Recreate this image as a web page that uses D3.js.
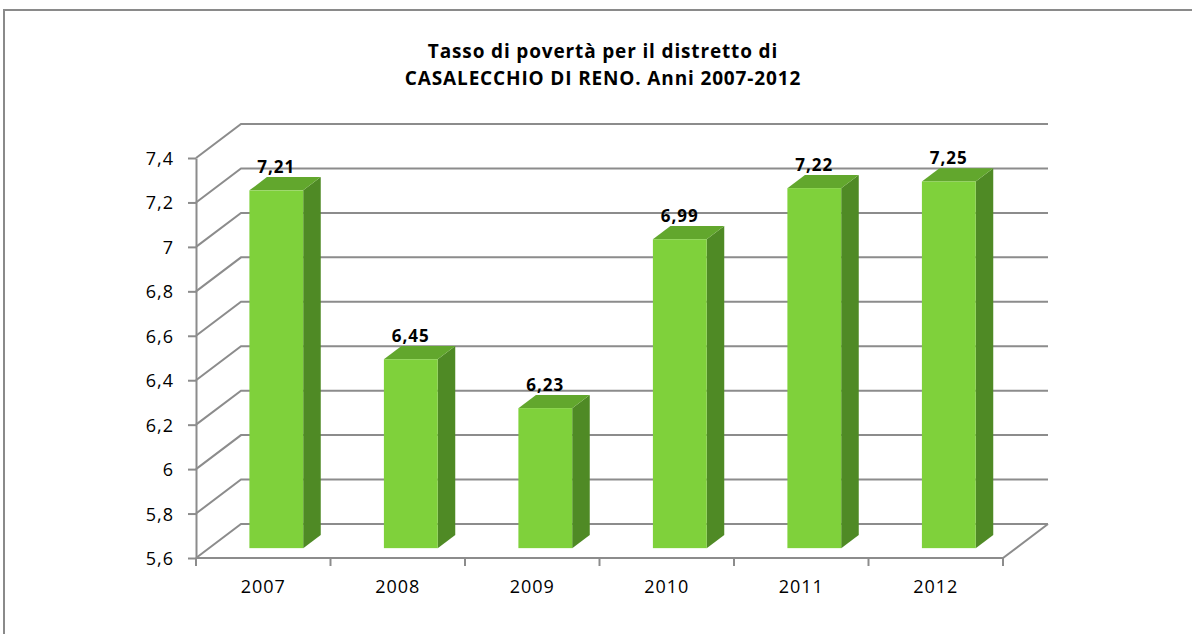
<!DOCTYPE html>
<html>
<head>
<meta charset="utf-8">
<script src="https://cdn.jsdelivr.net/npm/d3@7"></script>
<style>
  html, body { margin: 0; padding: 0; background: #fff; }
  svg { display: block; }
  text { font-family: "Open Sans", "DejaVu Sans", sans-serif; fill: #000; }
</style>
</head>
<body>
<svg id="chart" width="1192" height="634"></svg>
<script>
// Poverty rate, Casalecchio di Reno district, 2007-2012
const years = ["2007", "2008", "2009", "2010", "2011", "2012"];
const rates = [7.21, 6.45, 6.23, 6.99, 7.22, 7.25];
const yTicks = [5.6, 5.8, 6, 6.2, 6.4, 6.6, 6.8, 7, 7.2, 7.4];
const titleLines = ["Tasso di povertà per il distretto di", "CASALECCHIO DI RENO. Anni 2007-2012"];

const svg = d3.select("#chart");
const W = 1192, H = 634;

// Italian number format (comma decimal)
const it = d3.formatLocale({ decimal: ",", thousands: ".", grouping: [3], currency: ["", " €"] });
const fmtTick = it.format("~g");
const fmtVal = it.format(".2f");

// Plot frame (front plane) and depth vector for the 3-D box
const plotLeft = 196, plotRight = 1003, plotTop = 158, plotBottom = 558;
const DX = 45, DY = -34;
const gridColor = "#8c8c8c";

const x = d3.scaleBand().domain(years).range([plotLeft, plotRight]).paddingInner(0).paddingOuter(0);
const y = d3.scaleLinear().domain([5.6, 7.4]).range([plotBottom, plotTop]);

// Outer frame
svg.append("rect")
  .attr("x", 4).attr("y", 10).attr("width", W + 10).attr("height", H + 10)
  .attr("fill", "none").attr("stroke", "#8a8a8a").attr("stroke-width", 2);

// Title
const title = svg.append("text")
  .attr("text-anchor", "middle")
  .style("font-weight", "bold").style("font-size", "19px").style("letter-spacing", "0.85px");
title.selectAll("tspan").data(titleLines).join("tspan")
  .attr("x", 603).attr("y", (d, i) => 58 + i * 27).text(d => d);

const grid = svg.append("g").attr("fill", "none").attr("stroke", gridColor).attr("stroke-width", 2);

// Left wall diagonals and back wall gridlines
yTicks.forEach(v => {
  const yy = y(v);
  grid.append("path").attr("d", `M${plotLeft},${yy}L${plotLeft + DX},${yy + DY}L${plotRight + DX},${yy + DY}`);
});
// Floor: front edge and right diagonal
grid.append("path").attr("d", `M${plotLeft},${plotBottom}L${plotRight},${plotBottom}L${plotRight + DX},${plotBottom + DY}`);

// Y axis
const yAxis = d3.axisLeft(y).tickValues(yTicks).tickFormat(fmtTick).tickSize(8).tickSizeOuter(0).tickPadding(14);
const yg = svg.append("g").attr("transform", `translate(${plotLeft},0)`).call(yAxis);
yg.select(".domain").attr("stroke", gridColor).attr("stroke-width", 2);
yg.selectAll(".tick line").attr("stroke", gridColor).attr("stroke-width", 2);
yg.selectAll(".tick text")
  .style("font-size", "18px").style("letter-spacing", "1px")
  .style("font-family", "'Open Sans', sans-serif").attr("dy", "0.36em");

// X axis: ticks on category boundaries, labels at centres
const xg = svg.append("g");
const bounds = years.map(d => x(d)).concat([plotRight]);
xg.selectAll("line").data(bounds).join("line")
  .attr("x1", d => d).attr("x2", d => d).attr("y1", plotBottom).attr("y2", plotBottom + 8)
  .attr("stroke", gridColor).attr("stroke-width", 2);
xg.selectAll("text").data(years).join("text")
  .attr("x", d => x(d) + x.bandwidth() / 2).attr("y", 593)
  .attr("text-anchor", "middle").style("font-size", "18px").style("letter-spacing", "1px").text(d => d);

// 3-D columns
const f0 = 0.29, f1 = 0.68;           // depth positions of front and back faces
const bw = x.bandwidth() * 0.4;
const colFront = "#7fd13b", colTop = "#62a72d", colSide = "#4f8a25";

const bars = svg.append("g").selectAll("g").data(years.map((d, i) => ({ year: d, v: rates[i] }))).join("g");
bars.each(function (d) {
  const g = d3.select(this);
  const x0 = x(d.year) + (x.bandwidth() - bw) / 2 + DX * f0;
  const x1 = x0 + bw;
  const yb = plotBottom + DY * f0;
  const yt = y(d.v) + DY * f0;
  const ddx = DX * (f1 - f0), ddy = DY * (f1 - f0);
  g.append("path").attr("fill", colSide)
    .attr("d", `M${x1},${yt}L${x1 + ddx},${yt + ddy}L${x1 + ddx},${yb + ddy}L${x1},${yb}Z`);
  g.append("path").attr("fill", colTop)
    .attr("d", `M${x0},${yt}L${x0 + ddx},${yt + ddy}L${x1 + ddx},${yt + ddy}L${x1},${yt}Z`);
  g.append("rect").attr("fill", colFront)
    .attr("x", x0).attr("y", yt).attr("width", bw).attr("height", yb - yt);
  g.append("text")
    .attr("x", (x0 + x1) / 2).attr("y", yt - 17)
    .attr("text-anchor", "middle").style("font-weight", "bold").style("font-size", "17px")
    .style("letter-spacing", "1px")
    .text(fmtVal(d.v));
});
</script>
</body>
</html>
